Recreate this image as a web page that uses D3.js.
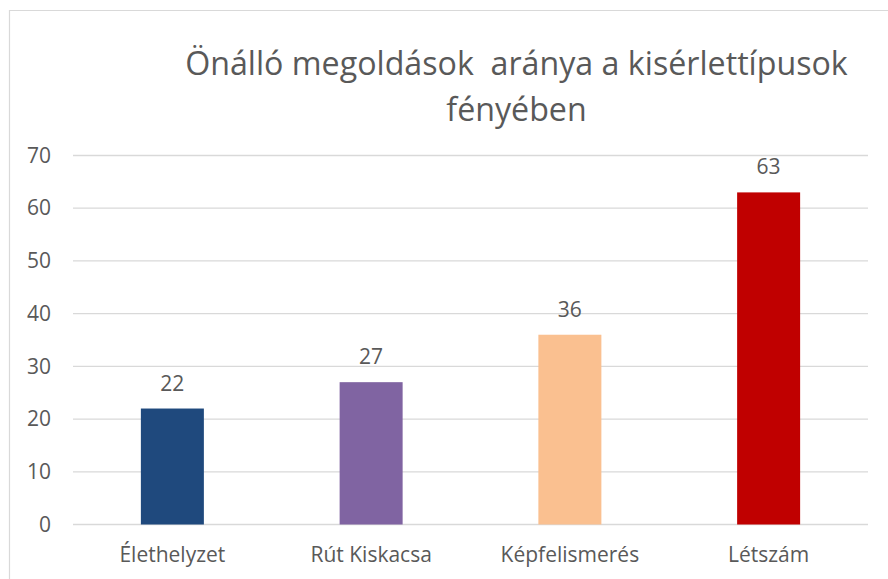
<!DOCTYPE html>
<html>
<head>
<meta charset="utf-8">
<script src="https://cdn.jsdelivr.net/npm/d3@7"></script>
<style>
  html, body { margin: 0; padding: 0; background: #fff; overflow: hidden; }
  text { fill: #595959; }
</style>
</head>
<body>
<div id="chart"></div>
<script>
// chart data
const categories = ["Élethelyzet", "Rút Kiskacsa", "Képfelismerés", "Létszám"];
const values = [22, 27, 36, 63];
const barColors = ["#1F497D", "#8064A2", "#FAC090", "#C00000"];
const yTicks = [0, 10, 20, 30, 40, 50, 60, 70];
const titleLines = ["Önálló megoldások  aránya a kisérlettípusok", "fényében"];

const width = 888;
const height = 579;
const margin = { top: 155.5, right: 20, bottom: 54.5, left: 73 };
const innerWidth = width - margin.left - margin.right;
const innerHeight = height - margin.top - margin.bottom;
const font = '"Open Sans", sans-serif';

const svg = d3.select('#chart').append('svg')
  .attr('width', width)
  .attr('height', height)
  .attr('font-family', font)
  .style('display', 'block');

// outer frame: only the top and left edges are in view
svg.append('path')
  .attr('d', `M9.5,${height} V10.5 H${width}`)
  .attr('fill', 'none')
  .attr('stroke', '#d9d9d9')
  .attr('stroke-width', 1.2);

// title, one text per line
svg.selectAll('text.title').data(titleLines)
  .enter().append('text')
  .attr('class', 'title')
  .attr('text-anchor', 'middle')
  .attr('font-size', 32.2)
  .attr('x', 516.5)
  .attr('y', (d, i) => 75 + i * 46)
  .style('white-space', 'pre')
  .text(d => d);

const g = svg.append('g')
  .attr('transform', `translate(${margin.left}, ${margin.top})`);

const xScale = d3.scaleBand()
  .domain(categories)
  .range([0, innerWidth])
  .paddingInner(0.683)
  .paddingOuter(0.683 / 2);

const yScale = d3.scaleLinear()
  .domain([0, 70])
  .range([innerHeight, 0]);

// gridlines
g.selectAll('line.grid').data(yTicks)
  .enter().append('line')
  .attr('class', 'grid')
  .attr('x1', 0).attr('x2', innerWidth)
  .attr('y1', d => yScale(d)).attr('y2', d => yScale(d))
  .attr('stroke', '#d9d9d9')
  .attr('stroke-width', 1.3);

// y axis
const yAxis = d3.axisLeft(yScale).tickValues(yTicks).tickSize(0).tickPadding(22);
const yG = g.append('g').call(yAxis)
  .attr('font-size', 21)
  .attr('font-family', font);
yG.select('.domain').remove();
yG.selectAll('text').attr('fill', '#595959');

// bars
g.selectAll('rect.bar').data(values)
  .enter().append('rect')
  .attr('class', 'bar')
  .attr('x', (d, i) => xScale(categories[i]))
  .attr('y', d => yScale(d))
  .attr('width', xScale.bandwidth())
  .attr('height', d => innerHeight - yScale(d))
  .attr('fill', (d, i) => barColors[i]);

// value labels
g.selectAll('text.val').data(values)
  .enter().append('text')
  .attr('class', 'val')
  .attr('x', (d, i) => xScale(categories[i]) + xScale.bandwidth() / 2)
  .attr('y', d => yScale(d) - 18)
  .attr('text-anchor', 'middle')
  .attr('font-size', 21)
  .text(d => d);

// x axis
const xAxis = d3.axisBottom(xScale).tickSize(0).tickPadding(23);
const xG = g.append('g')
  .attr('transform', `translate(0, ${innerHeight})`)
  .call(xAxis)
  .attr('font-size', 21)
  .attr('font-family', font);
xG.select('.domain').remove();
xG.selectAll('text').attr('fill', '#595959');
</script>
</body>
</html>
